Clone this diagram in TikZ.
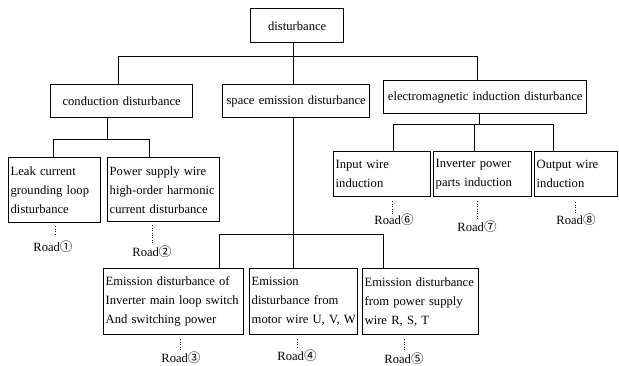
\documentclass[tikz,border=0pt]{standalone}
\usepackage{fontspec}
\setmainfont{Liberation Serif}
\newfontfamily\cjk{Noto Sans CJK SC}
\begin{document}
\begin{tikzpicture}[x=1pt,y=-1pt,
  box/.style={draw, line width=1.4pt, inner xsep=2pt, inner ysep=0pt, anchor=north west,
    font=\fontsize{12.6}{19}\selectfont},
  lbox/.style={box, align=left},
  cbox/.style={box, align=center},
  conn/.style={line width=1pt},
  dotline/.style={line width=1pt, dash pattern=on 0.8pt off 1.6pt},
  road/.style={inner sep=0pt, font=\fontsize{12.6}{14}\selectfont}]
\useasboundingbox (0,0) rectangle (619,366);

% top level
\node[cbox, minimum width=93, minimum height=34, text width=89] (D) at (250,8) {disturbance};
\node[cbox, minimum width=142, minimum height=33, text width=138] (C) at (50,84) {conduction disturbance};
\node[cbox, minimum width=147, minimum height=33, text width=143] (S) at (222,84) {\mbox{space emission disturbance}};
\node[cbox, minimum width=203, minimum height=33, text width=199] (E) at (383,80) {\mbox{electromagnetic induction disturbance}};

% conduction children
\node[lbox, minimum width=92, minimum height=65, text width=88] (L1) at (8,157) {\mbox{Leak current}\\\mbox{grounding loop}\\\mbox{disturbance}};
\node[lbox, minimum width=112, minimum height=64, text width=108] (L2) at (107,157) {\mbox{Power supply wire}\\\mbox{high-order harmonic}\\\mbox{current disturbance}};

% space emission children
\node[lbox, minimum width=140, minimum height=66, text width=136] (E1) at (103,268) {\mbox{Emission disturbance of}\\\mbox{Inverter main loop switch}\\\mbox{And switching power}};
\node[lbox, minimum width=108, minimum height=66, text width=104] (E2) at (249,268) {\mbox{Emission}\\\mbox{disturbance from}\\\mbox{motor wire U, V, W}};
\node[lbox, minimum width=116, minimum height=66, text width=112] (E3) at (362,268) {\mbox{Emission disturbance}\\\mbox{from power supply}\\\mbox{wire R, S, T}};

% em induction children
\node[lbox, minimum width=97, minimum height=45, text width=93] (I1) at (333,151) {\mbox{Input wire}\\\mbox{induction}};
\node[lbox, minimum width=98, minimum height=45, text width=94] (I2) at (433,151) {\mbox{Inverter power}\\\mbox{parts induction}};
\node[lbox, minimum width=83, minimum height=45, text width=79] (I3) at (534,151) {\mbox{Output wire}\\\mbox{induction}};

% road labels
\node[road] (R1) at (53,247) {Road{\cjk ①}};
\node[road] (R2) at (152,252) {Road{\cjk ②}};
\node[road] (R3) at (181,358) {Road{\cjk ③}};
\node[road] (R4) at (297,356) {Road{\cjk ④}};
\node[road] (R5) at (404,359) {Road{\cjk ⑤}};
\node[road] (R6) at (394,220) {Road{\cjk ⑥}};
\node[road] (R7) at (477,227) {Road{\cjk ⑦}};
\node[road] (R8) at (576,220) {Road{\cjk ⑧}};

% bus coordinates
\coordinate (t0) at (293,57); \coordinate (tC) at (118,57); \coordinate (tE) at (477,57);
\coordinate (c0) at (107,140); \coordinate (cL) at (53,140); \coordinate (cR) at (149,140);
\coordinate (s0) at (293,235); \coordinate (sL) at (219,235); \coordinate (sR) at (383,235);
\coordinate (e0) at (479,125); \coordinate (eL) at (393,125); \coordinate (eM) at (474,125); \coordinate (eR) at (553,125);

% connectors
\draw[conn] (t0 |- D.south) -- (t0 |- S.north);
\draw[conn] (tC |- C.north) -- (tC) -- (tE) -- (tE |- E.north);
\draw[conn] (c0 |- C.south) -- (c0);
\draw[conn] (cL |- L1.north) -- (cL) -- (cR) -- (cR |- L2.north);
\draw[conn] (s0 |- S.south) -- (s0 |- E2.north);
\draw[conn] (sL |- E1.north) -- (sL) -- (sR) -- (sR |- E3.north);
\draw[conn] (e0 |- E.south) -- (e0);
\draw[conn] (eL |- I1.north) -- (eL) -- (eR) -- (eR |- I3.north);
\draw[conn] (eM) -- (eM |- I2.north);

% dotted leaders
\draw[dotline] ([xshift=2pt]R1.north |- L1.south) ++(0,3) -- ++(0,9);
\draw[dotline] (R2.north |- L2.south) ++(0,3) -- ++(0,17);
\draw[dotline] ([xshift=-1pt]R3.north |- E1.south) ++(0,4) -- ++(0,10);
\draw[dotline] (R4.north |- E2.south) ++(0,4) -- ++(0,8);
\draw[dotline] (R5.north |- E3.south) ++(0,4) -- ++(0,12);
\draw[dotline] ([xshift=-2pt]R6.north |- I1.south) ++(0,4) -- ++(0,14);
\draw[dotline] (R7.north |- I2.south) ++(0,4) -- ++(0,18);
\draw[dotline] ([xshift=-1pt]R8.north |- I3.south) ++(0,5) -- ++(0,10);
\end{tikzpicture}
\end{document}
